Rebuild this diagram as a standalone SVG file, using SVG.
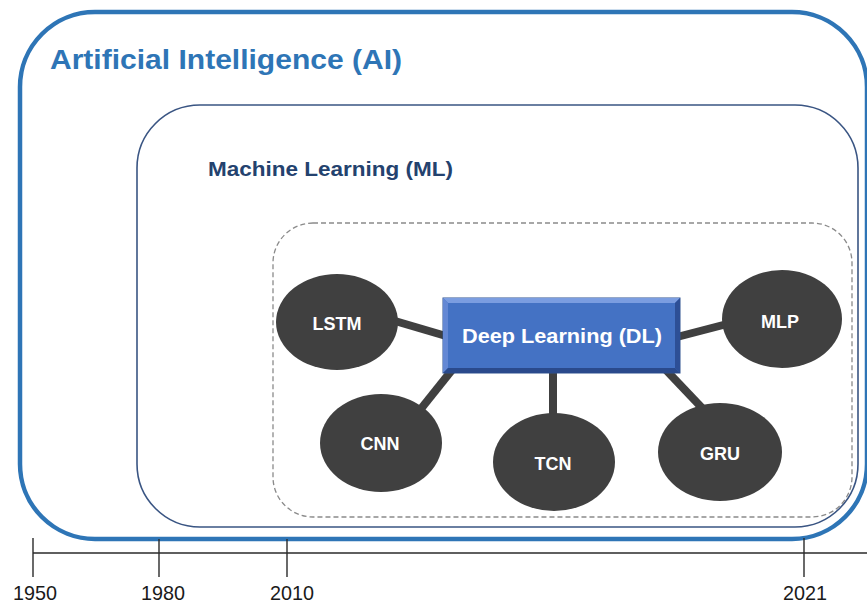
<svg xmlns="http://www.w3.org/2000/svg" width="867" height="603" viewBox="0 0 867 603">
<defs>
<style>
.ai{fill:none;stroke:#2e75b6;stroke-width:4.5}
.ml{fill:none;stroke:#3a5583;stroke-width:1.6}
.dl{fill:none;stroke:#8a8a8a;stroke-width:1.3;stroke-dasharray:5 3}
.title{font-family:"Liberation Sans",Arial,sans-serif;font-weight:bold}
.node{fill:#404040}
.lbl{font-family:"Liberation Sans",Arial,sans-serif;font-weight:bold;font-size:18px;fill:#ffffff;text-anchor:middle}
.conn{stroke:#404040;stroke-width:8;stroke-linecap:butt}
.axis{stroke:#2a2a2a;stroke-width:1.4}
.year{font-family:"Liberation Sans",Arial,sans-serif;font-size:21px;fill:#1a1a1a;text-anchor:middle}
</style>
</defs>
<rect width="867" height="603" fill="#ffffff"/>

<g id="ai">
<rect class="ai" x="20" y="12" width="847" height="527" rx="75" ry="75"/>
<text class="title" x="50" y="69" font-size="28" fill="#2e75b6" textLength="352" lengthAdjust="spacingAndGlyphs">Artificial Intelligence (AI)</text>
</g>

<g id="ml">
<rect class="ml" x="137" y="105" width="721" height="422" rx="63" ry="63"/>
<text class="title" x="208" y="176" font-size="20" fill="#24426e" textLength="245" lengthAdjust="spacingAndGlyphs">Machine Learning (ML)</text>
</g>

<g id="dl-region">
<rect class="dl" x="273" y="223" width="579" height="294" rx="40" ry="40"/>
</g>

<g id="connectors">
<line class="conn" x1="395" y1="321" x2="446" y2="336"/>
<line class="conn" x1="677" y1="337" x2="727" y2="324"/>
<line class="conn" x1="452" y1="370" x2="420" y2="410"/>
<line class="conn" x1="553" y1="372" x2="553" y2="415"/>
<line class="conn" x1="666" y1="370" x2="704" y2="410"/>
</g>

<g id="deep-learning">
<rect x="443" y="298" width="237" height="75" fill="#3f6cc0" stroke="#2f528f" stroke-width="1"/>
<polygon points="443,298 680,298 675,303 448,303" fill="#7b9de0"/>
<polygon points="443,298 448,303 448,368 443,373" fill="#6488d4"/>
<polygon points="680,298 680,373 675,368 675,303" fill="#2d4f96"/>
<polygon points="443,373 680,373 675,368 448,368" fill="#2a4a8c"/>
<rect x="448" y="303" width="227" height="65" fill="#4472c4"/>
<text x="562" y="343" font-family="'Liberation Sans',Arial,sans-serif" font-weight="bold" font-size="20" fill="#ffffff" text-anchor="middle" textLength="200" lengthAdjust="spacingAndGlyphs">Deep Learning (DL)</text>
</g>

<g id="lstm">
<ellipse class="node" cx="337" cy="322" rx="61" ry="48"/>
<text class="lbl" x="337" y="330">LSTM</text>
</g>
<g id="mlp">
<ellipse class="node" cx="782" cy="319" rx="60" ry="49"/>
<text class="lbl" x="780" y="328">MLP</text>
</g>
<g id="cnn">
<ellipse class="node" cx="381" cy="443" rx="61" ry="49"/>
<text class="lbl" x="380" y="450">CNN</text>
</g>
<g id="tcn">
<ellipse class="node" cx="554" cy="462" rx="61" ry="49"/>
<text class="lbl" x="553" y="470">TCN</text>
</g>
<g id="gru">
<ellipse class="node" cx="720" cy="452" rx="62" ry="49"/>
<text class="lbl" x="720" y="460">GRU</text>
</g>

<g id="timeline">
<line class="axis" x1="33" y1="553" x2="867" y2="553"/>
<line class="axis" x1="33" y1="538" x2="33" y2="577"/>
<line class="axis" x1="159" y1="539" x2="159" y2="577"/>
<line class="axis" x1="287" y1="539" x2="287" y2="577"/>
<line class="axis" x1="804" y1="538" x2="804" y2="577"/>
<text class="year" x="35" y="600" textLength="44" lengthAdjust="spacingAndGlyphs">1950</text>
<text class="year" x="163" y="600" textLength="44" lengthAdjust="spacingAndGlyphs">1980</text>
<text class="year" x="292" y="600" textLength="44" lengthAdjust="spacingAndGlyphs">2010</text>
<text class="year" x="805" y="600" textLength="44" lengthAdjust="spacingAndGlyphs">2021</text>
</g>
</svg>
